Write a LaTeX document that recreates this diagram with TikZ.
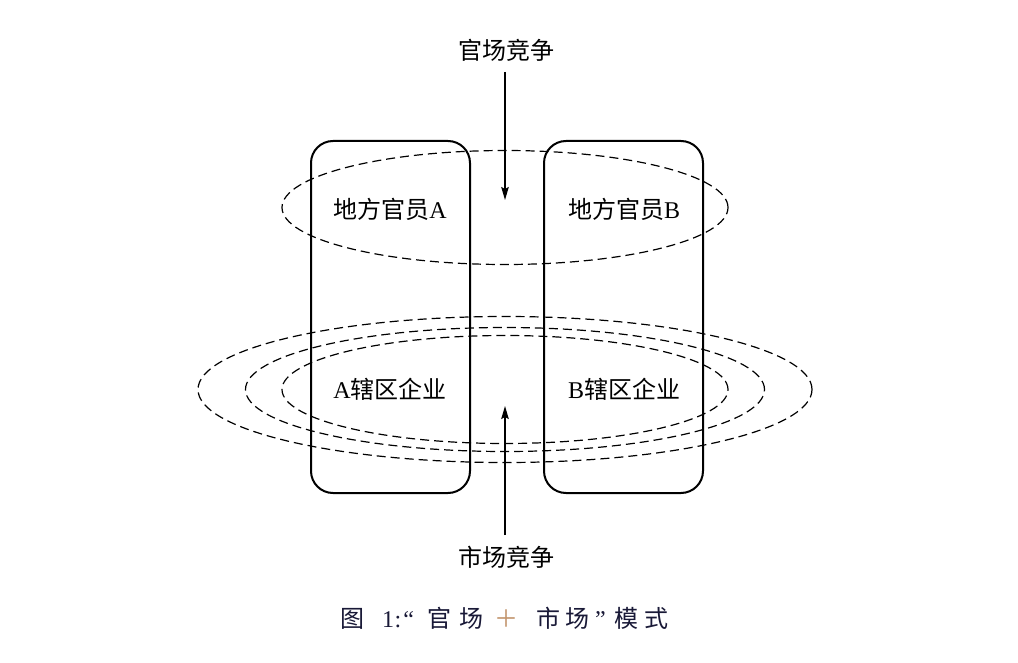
\documentclass[tikz,border=0pt]{standalone}
\usepackage{fontspec}
\setmainfont{Liberation Serif}
\newfontfamily\cjk{Noto Sans CJK SC}
\usetikzlibrary{arrows.meta}
\definecolor{capcol}{RGB}{25,25,55}
\definecolor{pluscol}{RGB}{195,150,110}
\tikzset{
  roundbox/.style={draw, line width=2pt, rounded corners=22pt, minimum width=159pt, minimum height=352pt, inner sep=0pt},
  ring/.style={draw, line width=1.2pt, dash pattern=on 9pt off 5pt},
  lbl/.style={font=\fontsize{24}{28}\selectfont, inner sep=0pt},
  arr/.style={line width=1.4pt, -{Stealth[length=13pt,width=7.5pt,inset=2pt]}},
}
\begin{document}
\begin{tikzpicture}[x=1pt,y=-1pt]
\path[use as bounding box, fill=white] (0,0) rectangle (1018,663);
% boxes
\node[roundbox] (boxA) at (390.5,317) {};
\node[roundbox] (boxB) at (623.5,317) {};
% ellipses
\coordinate (ctop) at (505,207.5);
\coordinate (cbot) at (505,389.5);
\draw[ring] (ctop) ellipse [x radius=223pt, y radius=57pt];
\draw[ring] (cbot) ellipse [x radius=307pt, y radius=73pt];
\draw[ring] (cbot) ellipse [x radius=259.5pt, y radius=62pt];
\draw[ring] (cbot) ellipse [x radius=223pt, y radius=54pt];
% labels
\node[lbl] (offA) at (390,209) {{\cjk 地方官员}A};
\node[lbl] (offB) at (624,209) {{\cjk 地方官员}B};
\node[lbl] (entA) at (390,389) {A{\cjk 辖区企业}};
\node[lbl] (entB) at (624,389) {B{\cjk 辖区企业}};
\node[lbl] (gcomp) at (506,50) {\cjk 官场竞争};
\node[lbl] (mcomp) at (506,557) {\cjk 市场竞争};
% arrows
\coordinate (gtip) at (505,200);
\coordinate (mtip) at (505,406);
\draw[arr] ([xshift=-1pt,yshift=-22pt]gcomp.center) -- (gtip);
\draw[arr] ([xshift=-1pt,yshift=22pt]mcomp.center) -- (mtip);
% caption
\node[inner sep=0pt, text=capcol, font=\fontsize{24}{28}\selectfont, anchor=west] (cap) at (340,618)
{{\cjk 图}\hspace{18pt}1\hspace{0.5pt}:\hspace{2pt}“\hspace{13pt}{\cjk 官}\hspace{9pt}{\cjk 场}\hspace{10pt}{\color{pluscol}\cjk ＋}\hspace{18pt}{\cjk 市}\hspace{6pt}{\cjk 场}\hspace{5pt}”\hspace{9pt}{\cjk 模}\hspace{6pt}{\cjk 式}};
\end{tikzpicture}
\end{document}
